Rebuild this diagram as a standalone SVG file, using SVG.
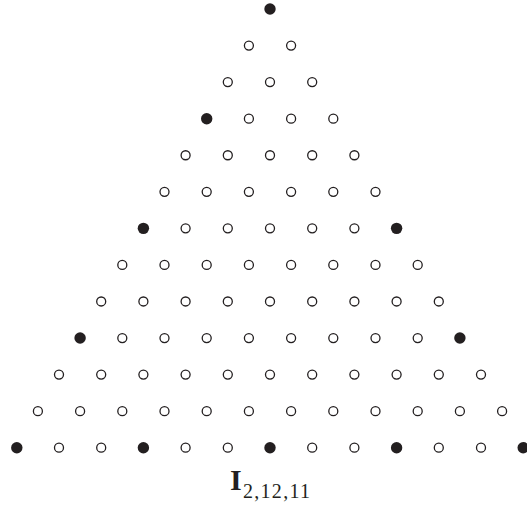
<svg xmlns="http://www.w3.org/2000/svg" width="527" height="506" viewBox="0 0 527 506">
<style>
.o{fill:#fff;stroke:#231f20;stroke-width:1.3}
.f{fill:#231f20;stroke:none}
.lab{font-family:"Liberation Serif","DejaVu Serif",serif;fill:#231f20}
</style>
<rect width="527" height="506" fill="#fff"/>
<g id="nodes">
<g id="r0"><circle class="f" cx="270" cy="9" r="5.7"/></g>
<g id="r1"><circle class="o" cx="248.9" cy="45.56" r="4.5"/><circle class="o" cx="291.1" cy="45.56" r="4.5"/></g>
<g id="r2"><circle class="o" cx="227.8" cy="82.12" r="4.5"/><circle class="o" cx="270" cy="82.12" r="4.5"/><circle class="o" cx="312.2" cy="82.12" r="4.5"/></g>
<g id="r3"><circle class="f" cx="206.7" cy="118.68" r="5.7"/><circle class="o" cx="248.9" cy="118.68" r="4.5"/><circle class="o" cx="291.1" cy="118.68" r="4.5"/><circle class="o" cx="333.3" cy="118.68" r="4.5"/></g>
<g id="r4"><circle class="o" cx="185.6" cy="155.24" r="4.5"/><circle class="o" cx="227.8" cy="155.24" r="4.5"/><circle class="o" cx="270" cy="155.24" r="4.5"/><circle class="o" cx="312.2" cy="155.24" r="4.5"/><circle class="o" cx="354.4" cy="155.24" r="4.5"/></g>
<g id="r5"><circle class="o" cx="164.5" cy="191.8" r="4.5"/><circle class="o" cx="206.7" cy="191.8" r="4.5"/><circle class="o" cx="248.9" cy="191.8" r="4.5"/><circle class="o" cx="291.1" cy="191.8" r="4.5"/><circle class="o" cx="333.3" cy="191.8" r="4.5"/><circle class="o" cx="375.5" cy="191.8" r="4.5"/></g>
<g id="r6"><circle class="f" cx="143.4" cy="228.36" r="5.7"/><circle class="o" cx="185.6" cy="228.36" r="4.5"/><circle class="o" cx="227.8" cy="228.36" r="4.5"/><circle class="o" cx="270" cy="228.36" r="4.5"/><circle class="o" cx="312.2" cy="228.36" r="4.5"/><circle class="o" cx="354.4" cy="228.36" r="4.5"/><circle class="f" cx="396.6" cy="228.36" r="5.7"/></g>
<g id="r7"><circle class="o" cx="122.3" cy="264.92" r="4.5"/><circle class="o" cx="164.5" cy="264.92" r="4.5"/><circle class="o" cx="206.7" cy="264.92" r="4.5"/><circle class="o" cx="248.9" cy="264.92" r="4.5"/><circle class="o" cx="291.1" cy="264.92" r="4.5"/><circle class="o" cx="333.3" cy="264.92" r="4.5"/><circle class="o" cx="375.5" cy="264.92" r="4.5"/><circle class="o" cx="417.7" cy="264.92" r="4.5"/></g>
<g id="r8"><circle class="o" cx="101.2" cy="301.48" r="4.5"/><circle class="o" cx="143.4" cy="301.48" r="4.5"/><circle class="o" cx="185.6" cy="301.48" r="4.5"/><circle class="o" cx="227.8" cy="301.48" r="4.5"/><circle class="o" cx="270" cy="301.48" r="4.5"/><circle class="o" cx="312.2" cy="301.48" r="4.5"/><circle class="o" cx="354.4" cy="301.48" r="4.5"/><circle class="o" cx="396.6" cy="301.48" r="4.5"/><circle class="o" cx="438.8" cy="301.48" r="4.5"/></g>
<g id="r9"><circle class="f" cx="80.1" cy="338.04" r="5.7"/><circle class="o" cx="122.3" cy="338.04" r="4.5"/><circle class="o" cx="164.5" cy="338.04" r="4.5"/><circle class="o" cx="206.7" cy="338.04" r="4.5"/><circle class="o" cx="248.9" cy="338.04" r="4.5"/><circle class="o" cx="291.1" cy="338.04" r="4.5"/><circle class="o" cx="333.3" cy="338.04" r="4.5"/><circle class="o" cx="375.5" cy="338.04" r="4.5"/><circle class="o" cx="417.7" cy="338.04" r="4.5"/><circle class="f" cx="459.9" cy="338.04" r="5.7"/></g>
<g id="r10"><circle class="o" cx="59" cy="374.6" r="4.5"/><circle class="o" cx="101.2" cy="374.6" r="4.5"/><circle class="o" cx="143.4" cy="374.6" r="4.5"/><circle class="o" cx="185.6" cy="374.6" r="4.5"/><circle class="o" cx="227.8" cy="374.6" r="4.5"/><circle class="o" cx="270" cy="374.6" r="4.5"/><circle class="o" cx="312.2" cy="374.6" r="4.5"/><circle class="o" cx="354.4" cy="374.6" r="4.5"/><circle class="o" cx="396.6" cy="374.6" r="4.5"/><circle class="o" cx="438.8" cy="374.6" r="4.5"/><circle class="o" cx="481" cy="374.6" r="4.5"/></g>
<g id="r11"><circle class="o" cx="37.9" cy="411.16" r="4.5"/><circle class="o" cx="80.1" cy="411.16" r="4.5"/><circle class="o" cx="122.3" cy="411.16" r="4.5"/><circle class="o" cx="164.5" cy="411.16" r="4.5"/><circle class="o" cx="206.7" cy="411.16" r="4.5"/><circle class="o" cx="248.9" cy="411.16" r="4.5"/><circle class="o" cx="291.1" cy="411.16" r="4.5"/><circle class="o" cx="333.3" cy="411.16" r="4.5"/><circle class="o" cx="375.5" cy="411.16" r="4.5"/><circle class="o" cx="417.7" cy="411.16" r="4.5"/><circle class="o" cx="459.9" cy="411.16" r="4.5"/><circle class="o" cx="502.1" cy="411.16" r="4.5"/></g>
<g id="r12"><circle class="f" cx="16.8" cy="447.72" r="5.7"/><circle class="o" cx="59" cy="447.72" r="4.5"/><circle class="o" cx="101.2" cy="447.72" r="4.5"/><circle class="f" cx="143.4" cy="447.72" r="5.7"/><circle class="o" cx="185.6" cy="447.72" r="4.5"/><circle class="o" cx="227.8" cy="447.72" r="4.5"/><circle class="f" cx="270" cy="447.72" r="5.7"/><circle class="o" cx="312.2" cy="447.72" r="4.5"/><circle class="o" cx="354.4" cy="447.72" r="4.5"/><circle class="f" cx="396.6" cy="447.72" r="5.7"/><circle class="o" cx="438.8" cy="447.72" r="4.5"/><circle class="o" cx="481" cy="447.72" r="4.5"/><circle class="f" cx="523.2" cy="447.72" r="5.7"/></g>
</g>
<g id="label"><text class="lab" x="230" y="490" font-size="30" font-weight="bold">I</text><text class="lab" x="243" y="498" font-size="20" textLength="67" lengthAdjust="spacing">2,12,11</text></g>
</svg>
